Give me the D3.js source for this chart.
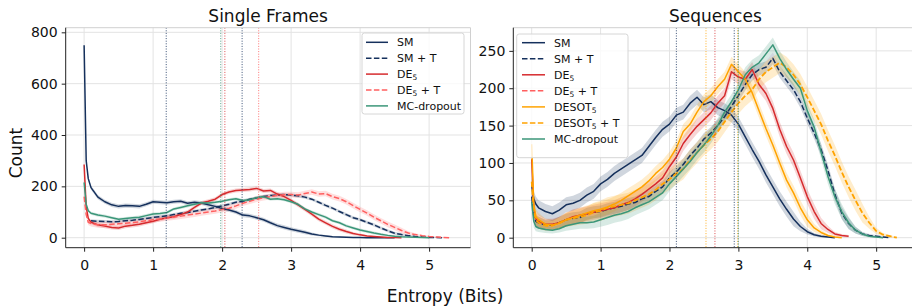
<!DOCTYPE html>
<html><head><meta charset="utf-8">
<script src="https://cdn.jsdelivr.net/npm/d3@7"></script>
<style>
body{margin:0;background:#fff;}
svg{display:block;font-family:"DejaVu Sans",sans-serif;}
</style>
</head><body>
<svg id="chart" width="912" height="307"></svg>
<script>
// ---------- DATA ----------
const entropyBins = [0,0.03,0.06,
  0.1,0.2,0.3,0.4,0.5,0.6,0.7,0.8,0.9,
  1.0,1.1,1.2,1.3,1.4,1.5,1.6,1.7,1.8,1.9,
  2.0,2.1,2.2,2.3,2.4,2.5,2.6,2.7,2.8,2.9,
  3.0,3.1,3.2,3.3,3.4,3.5,3.6,3.7,3.8,3.9,
  4.0,4.1,4.2,4.3,4.4,4.5,4.6,4.7,4.8,4.9,
  5.0,5.1,5.2,5.3];

const xTicks = [0,1,2,3,4,5];
const yTicksFrames = [0,200,400,600,800];
const yTicksSequences = [0,50,100,150,200,250];

// Single Frames
const framesSM = [750,300,230,
  195,158,140,128,122,125,124,122,130,
  140,138,136,140,142,134,138,135,128,122,
  114,108,100,88,85,78,70,58,47,40,
  33,27,21,14,10,7,4,3,2,1,
  1,0,0,0,0,0,null,null,null,null,
  null,null,null,null];
const framesSMT = [null,null,null,
  66,64,63,62,63,66,68,71,75,
  79,82,85,90,95,98,103,108,112,118,
  124,130,138,142,150,155,160,164,166,168,
  166,163,158,150,138,126,115,102,90,78,
  70,60,50,38,27,17,12,8,5,3,
  1,1,0,null];
const framesDE5 = [285,120,75,
  60,50,45,40,38,45,48,52,58,
  64,72,78,82,90,100,118,135,142,150,
  168,178,184,186,188,192,182,184,170,160,
  145,128,110,92,72,58,44,33,24,16,
  11,7,5,3,1,1,0,null,null,null,
  null,null,null,null];
const framesDE5T = [160,90,60,
  55,50,50,52,54,56,59,62,66,
  70,73,77,80,84,88,92,96,100,104,
  110,115,124,134,142,150,156,160,164,168,
  168,166,172,178,170,172,160,152,140,125,
  110,96,80,66,52,40,28,18,12,8,
  5,3,1,0];
const framesMC = [215,130,105,
  95,88,84,78,72,75,78,80,86,
  92,94,98,112,118,124,130,136,135,138,
  142,148,152,145,148,156,160,150,152,148,
  140,130,112,100,90,80,66,58,46,38,
  30,24,18,13,9,6,4,3,2,1,
  0,null,null,null];
const framesMeans = {SM:1.19, SMT:2.29, DE5:2.04, DE5T:2.53, MC:1.98};

// Sequences
const seqSM = [70,52,45,
  40,35,32,37,44,46,50,57,62,
  72,78,86,92,98,104,110,122,134,145,
  152,164,168,180,188,178,182,174,170,164,
  152,135,118,102,84,68,52,38,25,15,
  8,4,2,1,0,null,null,null,null,null,
  null,null,null,null];
const seqSMT = [55,30,22,
  20,17,17,20,24,26,27,32,34,
  35,38,40,42,45,47,52,55,62,68,
  80,88,98,110,120,132,140,150,162,176,
  190,205,218,225,228,240,222,210,198,182,
  160,140,118,90,58,33,19,10,5,3,
  2,1,0,null];
const seqDE5 = [105,40,25,
  22,18,18,20,24,28,30,32,34,
  36,38,40,44,47,52,58,65,72,80,
  95,108,126,138,149,158,167,180,190,222,
  215,212,225,205,193,173,145,122,104,80,
  55,35,19,11,5,3,2,null,null,null,
  null,null,null,null];
const seqDESOT5 = [125,45,28,
  24,18,17,19,24,27,30,33,36,
  38,41,45,50,56,62,68,76,86,94,
  105,120,142,152,168,182,190,202,212,232,
  222,212,194,170,146,124,100,77,60,40,
  24,13,7,3,1,0,null,null,null,null,
  null,null,null,null];
const seqDESOT5T = [75,35,24,
  20,16,16,20,24,26,28,30,34,
  36,40,42,44,46,50,54,58,64,72,
  78,86,92,104,114,124,132,142,155,168,
  180,190,198,212,222,228,234,228,218,205,
  188,170,152,130,110,88,68,50,33,20,
  9,4,2,0];
const seqMC = [48,22,15,
  13,11,10,12,16,18,20,20,21,
  24,27,30,32,35,40,44,48,54,60,
  72,82,92,102,114,124,136,150,168,182,
  198,218,228,234,246,258,240,225,212,200,
  170,148,115,82,55,35,20,10,5,2,
  1,0,null,null];
const seqMeans = {SM:2.10, SMT:2.94, DE5:2.66, DESOT5:2.53, DESOT5T:2.99, MC:3.00};

// ---------- STYLE ----------
const C = {navy:"#15305c", red:"#d62b2e", pink:"#ff5f5f", green:"#3b9679", orange:"#ffa300"};
const DASH = "5.5,2.4";

const svg = d3.select("#chart");

function drawPanel(cfg){
  const x = d3.scaleLinear().domain([-0.267,5.6]).range([cfg.left, cfg.right]);
  const y = d3.scaleLinear().domain(cfg.yDomain).range([247.7, 27.7]);
  const g = svg.append("g");
  const clipId = "clip" + cfg.id;
  svg.append("clipPath").attr("id", clipId).append("rect")
    .attr("x", cfg.left).attr("y", 27.7).attr("width", cfg.right-cfg.left).attr("height", 220);

  // grid
  g.selectAll(".gx").data(xTicks).enter().append("line")
    .attr("x1", d=>x(d)).attr("x2", d=>x(d)).attr("y1",27.7).attr("y2",247.7)
    .attr("stroke","#e3e3e3").attr("stroke-width",1);
  g.selectAll(".gy").data(cfg.yTicks).enter().append("line")
    .attr("x1", cfg.left).attr("x2", cfg.right).attr("y1", d=>y(d)).attr("y2", d=>y(d))
    .attr("stroke","#e3e3e3").attr("stroke-width",1);

  const plot = g.append("g").attr("clip-path", `url(#${clipId})`);

  // bands
  cfg.series.forEach(s=>{
    const pts = entropyBins.map((b,i)=>({x:b, v:s.values[i]}));
    const area = d3.area().defined(d=>d.v!=null)
      .x(d=>x(d.x))
      .y0(d=>y(Math.max(0, d.v - Math.min(s.band, 0.35*d.v+1))))
      .y1(d=>y(d.v + Math.min(s.band, 0.35*d.v+1)));
    plot.append("path").attr("d", area(pts)).attr("fill", s.color).attr("opacity", 0.2);
  });
  // lines
  cfg.series.forEach(s=>{
    const pts = entropyBins.map((b,i)=>({x:b, v:s.values[i]}));
    const line = d3.line().defined(d=>d.v!=null).x(d=>x(d.x)).y(d=>y(d.v));
    plot.append("path").attr("d", line(pts)).attr("fill","none")
      .attr("stroke", s.color).attr("stroke-width", s.width || 1.5)
      .attr("stroke-dasharray", s.dash ? DASH : null)
      .attr("stroke-linejoin","round");
  });
  // mean lines
  cfg.means.forEach(m=>{
    plot.append("line").attr("x1", x(m.value)).attr("x2", x(m.value))
      .attr("y1", 27.7).attr("y2", 247.7)
      .attr("stroke", m.color).attr("stroke-width", 1).attr("stroke-dasharray","1,1.6")
      .attr("opacity", 0.85);
  });

  // spines
  g.append("line").attr("x1",cfg.left).attr("x2",cfg.right).attr("y1",27.7).attr("y2",27.7).attr("stroke","#d0d0d0").attr("stroke-width",1);
  g.append("line").attr("x1",cfg.right).attr("x2",cfg.right).attr("y1",27.7).attr("y2",247.7).attr("stroke","#d0d0d0").attr("stroke-width",1);
  g.append("line").attr("x1",cfg.left).attr("x2",cfg.left).attr("y1",27.7).attr("y2",247.7).attr("stroke","#222").attr("stroke-width",1);
  g.append("line").attr("x1",cfg.left).attr("x2",cfg.right).attr("y1",247.7).attr("y2",247.7).attr("stroke","#222").attr("stroke-width",1);

  // axes
  const xa = g.append("g").attr("transform","translate(0,247.7)")
    .call(d3.axisBottom(x).tickValues(xTicks).tickFormat(d3.format("d")).tickSize(4).tickPadding(8));
  const ya = g.append("g").attr("transform",`translate(${cfg.left},0)`)
    .call(d3.axisLeft(y).tickValues(cfg.yTicks).tickFormat(d3.format("d")).tickSize(4).tickPadding(4));
  [xa, ya].forEach(a=>{
    a.select(".domain").remove();
    a.selectAll(".tick line").attr("stroke","#222");
    a.selectAll(".tick text").attr("font-size","14px").attr("fill","#111").attr("font-family","DejaVu Sans");
  });

  // title
  g.append("text").attr("x",(cfg.left+cfg.right)/2).attr("y",21.5).attr("text-anchor","middle")
    .attr("font-size","17px").attr("fill","#111").text(cfg.title);

  // legend
  const L = cfg.legend;
  const lg = g.append("g");
  lg.append("rect").attr("x",L.x).attr("y",L.y).attr("width",L.w).attr("height",L.h)
    .attr("rx",2.5).attr("fill","#fff").attr("fill-opacity",0.8).attr("stroke","#d6d6d6").attr("stroke-width",1);
  L.items.forEach((it,i)=>{
    const yy = L.row0 + i*L.step;
    lg.append("line").attr("x1",L.hx1).attr("x2",L.hx2).attr("y1",yy).attr("y2",yy)
      .attr("stroke",it.color).attr("stroke-width",1.5).attr("stroke-dasharray",it.dash?DASH:null);
    const t = lg.append("text").attr("x",L.tx).attr("y",yy+4).attr("font-size","11px").attr("fill","#111");
    const parts = it.label.split("₅");
    t.append("tspan").text(parts[0]);
    if(parts.length>1){
      t.append("tspan").attr("font-size","7.5px").attr("dy",2).text("5");
      t.append("tspan").attr("dy",-2).text(parts[1]);
    }
  });
}

drawPanel({
  id:"frames", title:"Single Frames", left:65.7, right:470.5, yDomain:[-39,818], yTicks:yTicksFrames,
  series:[
    {values:framesSM, color:C.navy, band:8},
    {values:framesSMT, color:C.navy, dash:true, band:6},
    {values:framesDE5, color:C.red, band:8},
    {values:framesDE5T, color:C.pink, dash:true, band:11},
    {values:framesMC, color:C.green, band:6}
  ],
  means:[
    {value:framesMeans.SM, color:C.navy},
    {value:framesMeans.SMT, color:C.navy},
    {value:framesMeans.DE5, color:C.red},
    {value:framesMeans.DE5T, color:C.pink},
    {value:framesMeans.MC, color:C.green}
  ],
  legend:{x:362, y:33, w:102, h:81, row0:42.3, step:15.9, hx1:366, hx2:388, tx:397,
    items:[
      {label:"SM", color:C.navy},
      {label:"SM + T", color:C.navy, dash:true},
      {label:"DE₅", color:C.red},
      {label:"DE₅ + T", color:C.pink, dash:true},
      {label:"MC-dropout", color:C.green}
    ]}
});

drawPanel({
  id:"seq", title:"Sequences", left:513.3, right:917.5, yDomain:[-13.4,281], yTicks:yTicksSequences,
  series:[
    {values:seqSM, color:C.navy, band:10},
    {values:seqSMT, color:C.navy, dash:true, band:8},
    {values:seqDE5, color:C.red, band:10},
    {values:seqDESOT5, color:C.orange, band:10},
    {values:seqDESOT5T, color:C.orange, dash:true, band:14, width:1.8},
    {values:seqMC, color:C.green, band:10}
  ],
  means:[
    {value:seqMeans.SM, color:C.navy},
    {value:seqMeans.DESOT5, color:C.orange},
    {value:seqMeans.DE5, color:C.red},
    {value:seqMeans.SMT, color:C.navy},
    {value:seqMeans.DESOT5T, color:C.orange},
    {value:seqMeans.MC, color:C.green}
  ],
  legend:{x:516.7, y:34, w:111.3, h:123.7, row0:42.7, step:16.05, hx1:522, hx2:545, tx:554,
    items:[
      {label:"SM", color:C.navy},
      {label:"SM + T", color:C.navy, dash:true},
      {label:"DE₅", color:C.red},
      {label:"DE₅ + T", color:C.pink, dash:true},
      {label:"DESOT₅", color:C.orange},
      {label:"DESOT₅ + T", color:C.orange, dash:true},
      {label:"MC-dropout", color:C.green}
    ]}
});

// shared labels
svg.append("text").attr("transform","translate(22,153) rotate(-90)").attr("text-anchor","middle")
  .attr("font-size","17px").attr("fill","#111").text("Count");
svg.append("text").attr("x",445).attr("y",302).attr("text-anchor","middle")
  .attr("font-size","17px").attr("fill","#111").text("Entropy (Bits)");
</script>
</body></html>
